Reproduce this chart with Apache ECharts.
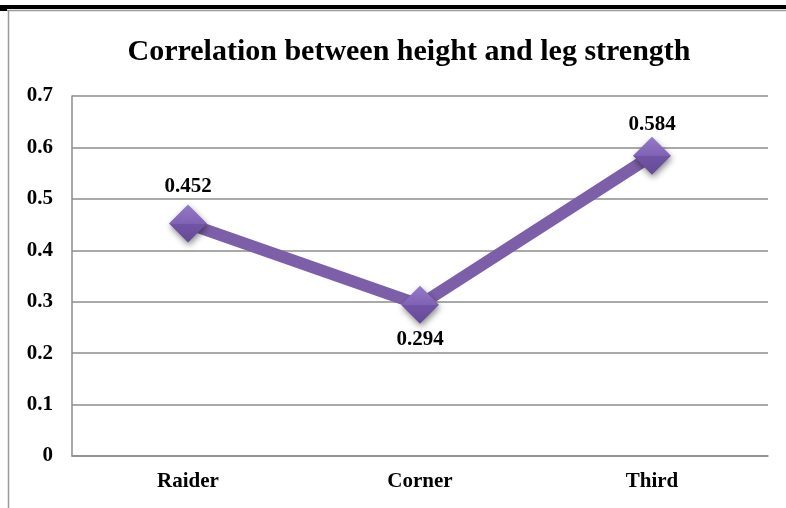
<!DOCTYPE html>
<html>
<head>
<meta charset="utf-8">
<script src="https://cdn.jsdelivr.net/npm/echarts@6/dist/echarts.min.js"></script>
<style>
html,body{margin:0;padding:0;background:#fff;}
#c{width:786px;height:508px;}
</style>
</head>
<body>
<div id="c"></div>
<script>
const categories = ['Raider', 'Corner', 'Third'];
const correlation = [0.452, 0.294, 0.584];
const yTicks = [0, 0.1, 0.2, 0.3, 0.4, 0.5, 0.6, 0.7];
const labelPositions = ['top', 'bottom', 'top'];
const labelDistances = [7, 5, 2];

const chart = echarts.init(document.getElementById('c'), null, {renderer: 'canvas'});
const serif = '"Liberation Serif", "Times New Roman", serif';

chart.setOption({
  animation: false,
  backgroundColor: '#ffffff',
  title: {
    text: 'Correlation between height and leg strength',
    left: 404,
    textAlign: 'center',
    top: 32,
    textStyle: {fontFamily: serif, fontWeight: 'bold', fontSize: 30, color: '#000'}
  },
  grid: {left: 72, right: 18, top: 96, bottom: 52, containLabel: false},
  xAxis: {
    type: 'category',
    data: categories,
    boundaryGap: true,
    axisLine: {lineStyle: {color: '#8c8c8c', width: 1.5}},
    axisTick: {show: false},
    axisLabel: {fontFamily: serif, fontWeight: 'bold', fontSize: 21, color: '#000', margin: 15}
  },
  yAxis: {
    type: 'value',
    min: yTicks[0],
    max: yTicks[yTicks.length - 1],
    interval: 0.1,
    axisLine: {show: true, lineStyle: {color: '#8c8c8c', width: 1.5}},
    axisTick: {show: false},
    splitLine: {lineStyle: {color: '#8c8c8c', width: 1.5}},
    axisLabel: {
      fontFamily: serif, fontWeight: 'bold', fontSize: 21, color: '#000', margin: 19,
      formatter: v => (Math.round(v * 10) / 10).toString()
    }
  },
  series: [{
    type: 'line',
    data: correlation.map((v, i) => ({
      value: v,
      label: {position: labelPositions[i], distance: labelDistances[i]}
    })),
    symbol: 'diamond',
    symbolSize: 38,
    lineStyle: {color: '#7d5fa9', width: 12},
    itemStyle: {
      color: new echarts.graphic.LinearGradient(0, 0, 0, 1, [
        {offset: 0, color: '#957ac8'},
        {offset: 0.5, color: '#8062b4'},
        {offset: 0.5, color: '#7254a6'},
        {offset: 1, color: '#654a96'}
      ]),
      shadowBlur: 6,
      shadowOffsetX: 1,
      shadowOffsetY: 3,
      shadowColor: 'rgba(0,0,0,0.45)'
    },
    label: {
      show: true,
      fontFamily: serif, fontWeight: 'bold', fontSize: 21, color: '#000',
      formatter: p => p.value.toFixed(3)
    },
    z: 3
  }],
  graphic: [
    {type: 'rect', shape: {x: 0, y: 5, width: 786, height: 4}, style: {fill: '#000'}, silent: true},
    {type: 'rect', shape: {x: 0, y: 8, width: 7, height: 3}, style: {fill: '#000'}, silent: true},
    {type: 'line', shape: {x1: 7, y1: 10.5, x2: 786, y2: 10.5}, style: {stroke: '#9a9a9a', lineWidth: 1.5}, silent: true},
    {type: 'line', shape: {x1: 8.5, y1: 10, x2: 8.5, y2: 508}, style: {stroke: '#9a9a9a', lineWidth: 1.5}, silent: true}
  ]
});
</script>
</body>
</html>
